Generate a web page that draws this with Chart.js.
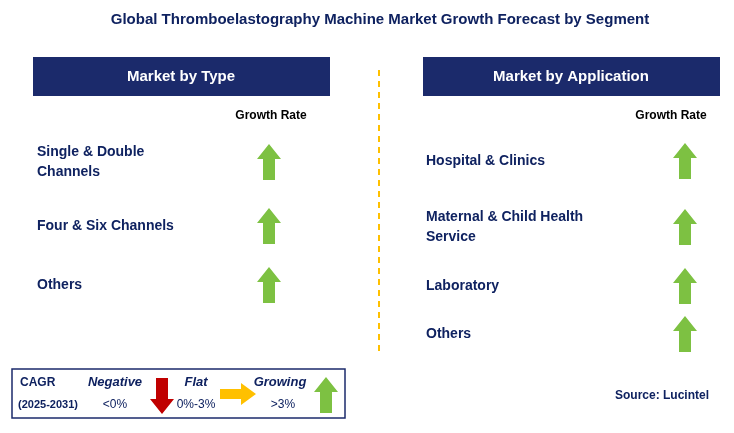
<!DOCTYPE html><html><head><meta charset="utf-8">
<script src="https://cdn.jsdelivr.net/npm/chart.js@4/dist/chart.umd.min.js"></script>
<style>html,body{margin:0;padding:0;background:#fff}#c{display:block}</style></head><body>
<div style="width:734px;height:433px"><canvas id="c" width="734" height="433"></canvas></div>
<script>
const title = "Global Thromboelastography Machine Market Growth Forecast by Segment";
const typeCategories = ["Single & Double\nChannels", "Four & Six Channels", "Others"];
const typeRowY = [162, 226, 285];
const appCategories = ["Hospital & Clinics", "Maternal & Child Health\nService", "Laboratory", "Others"];
const appRowY = [161, 227, 286, 334];
const typeGrowth = ["up", "up", "up"];
const appGrowth = ["up", "up", "up", "up"];
const NAVY = "#0f2260", GREEN = "#7dc142";

function arrow(dir){
  const c=document.createElement('canvas');
  const w = dir==='right'?36:24, h = dir==='right'?22:36;
  c.width=w;c.height=h;const g=c.getContext('2d');g.beginPath();
  if(dir==='up'){g.fillStyle=GREEN;g.moveTo(12,0);g.lineTo(24,15);g.lineTo(18,15);g.lineTo(18,36);g.lineTo(6,36);g.lineTo(6,15);g.lineTo(0,15);}
  else if(dir==='down'){g.fillStyle="#c00000";g.moveTo(6,0);g.lineTo(18,0);g.lineTo(18,21);g.lineTo(24,21);g.lineTo(12,36);g.lineTo(0,21);g.lineTo(6,21);}
  else {g.fillStyle="#ffc000";g.moveTo(0,6);g.lineTo(21,6);g.lineTo(21,0);g.lineTo(36,11);g.lineTo(21,22);g.lineTo(21,16);g.lineTo(0,16);}
  g.closePath();g.fill();return c;
}
const pts=[], styles=[];
typeRowY.forEach((y,i)=>{pts.push({x:269,y});styles.push(arrow(typeGrowth[i]));});
appRowY.forEach((y,i)=>{pts.push({x:685,y});styles.push(arrow(appGrowth[i]));});
pts.push({x:162,y:396});styles.push(arrow('down'));
pts.push({x:238,y:394});styles.push(arrow('right'));
pts.push({x:326,y:395});styles.push(arrow('up'));

const deco={id:'deco',beforeDatasetsDraw(ch){
  const g=ch.ctx,X=v=>ch.scales.x.getPixelForValue(v),Y=v=>ch.scales.y.getPixelForValue(v);
  g.save();g.textBaseline='middle';
  g.fillStyle=NAVY;g.font='bold 15px Arial, "Liberation Sans"';g.textAlign='center';
  g.fillText(title,X(380),Y(20));
  g.fillStyle="#1b2a6b";
  g.fillRect(X(33),Y(57),X(330)-X(33),Y(96)-Y(57));
  g.fillRect(X(423),Y(57),X(720)-X(423),Y(96)-Y(57));
  g.fillStyle='#fff';g.font='bold 15px Arial, "Liberation Sans"';
  g.fillText("Market by Type",X(181),Y(77));g.fillText("Market by Application",X(571),Y(77));
  g.fillStyle='#000';g.font='bold 12px Arial, "Liberation Sans"';
  g.fillText("Growth Rate",X(271),Y(116));g.fillText("Growth Rate",X(671),Y(116));
  g.strokeStyle='#ffc000';g.lineWidth=2;g.setLineDash([6,5]);g.beginPath();g.moveTo(X(379),Y(70));g.lineTo(X(379),Y(356));g.stroke();g.setLineDash([]);
  g.fillStyle=NAVY;g.font='bold 14px Arial, "Liberation Sans"';g.textAlign='left';
  const rows=(cats,ys,x)=>cats.forEach((t,i)=>{const ls=t.split('\n');ls.forEach((l,j)=>g.fillText(l,X(x),Y(ys[i]+(j-(ls.length-1)/2)*20)));});
  rows(typeCategories,typeRowY,37);rows(appCategories,appRowY,426);
  g.strokeStyle='#1b2a6b';g.lineWidth=1.5;g.strokeRect(X(12),Y(369),X(345)-X(12),Y(418)-Y(369));
  g.fillStyle=NAVY;g.font='bold 12px Arial, "Liberation Sans"';g.fillText("CAGR",X(20),Y(383));
  g.font='bold 11px Arial, "Liberation Sans"';g.fillText("(2025-2031)",X(18),Y(405));
  g.font='bold italic 13px Arial, "Liberation Sans"';g.textAlign='center';
  g.fillText("Negative",X(115),Y(382));g.fillText("Flat",X(196),Y(382));g.fillText("Growing",X(280),Y(382));
  g.font='12px Arial, "Liberation Sans"';g.fillText("<0%",X(115),Y(405));g.fillText("0%-3%",X(196),Y(405));g.fillText(">3%",X(283),Y(405));
  g.font='bold 12px Arial, "Liberation Sans"';g.textAlign='right';g.fillText("Source: Lucintel",X(709),Y(396));
  g.restore();}};
new Chart(document.getElementById('c'),{type:'scatter',
  data:{datasets:[{data:pts,pointStyle:styles,pointRadius:12,pointHoverRadius:12,clip:false}]},
  options:{responsive:false,animation:false,events:[],layout:{padding:0,autoPadding:false},
    plugins:{legend:{display:false},tooltip:{enabled:false}},
    scales:{x:{type:'linear',min:0,max:734,display:false},y:{type:'linear',min:0,max:433,reverse:true,display:false}}},
  plugins:[deco]});
</script></body></html>
